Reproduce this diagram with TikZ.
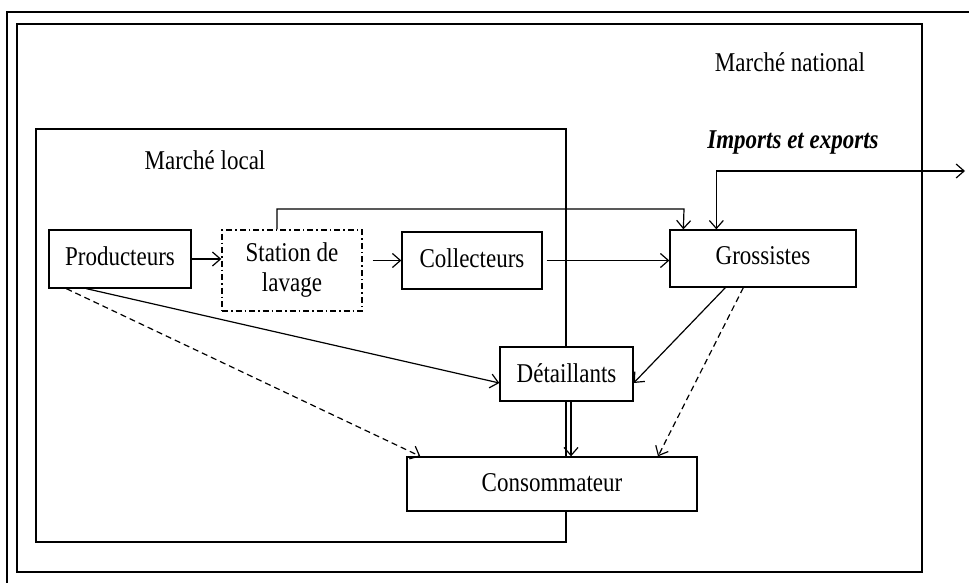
\documentclass[tikz,border=0pt]{standalone}
\usepackage{fontspec}
\usepackage{graphicx}
\setmainfont{Liberation Serif}
\usetikzlibrary{arrows.meta,calc}
% Times-style lettering, drawn a little taller than it is wide
\newcommand\tall[1]{\scalebox{1}[1.18]{#1}}
% single-line box labels sit a little above the middle of their box
\newcommand\boxlabel[2][5pt]{\raisebox{#1}{\tall{#2}}}
\begin{document}
\begin{tikzpicture}[x=1pt,y=-1pt,
  every node/.style={font=\fontsize{23}{28}\selectfont, inner sep=0pt},
  actor/.style={draw, fill=white, line width=1.3pt, align=center},
  frame/.style={draw, line width=1.3pt},
  flow/.style={line width=1.2pt, -{Straight Barb[length=8pt,width=14pt,line width=1.2pt]}},
  weakflow/.style={flow, dash pattern=on 6pt off 4pt},
  label/.style={font=\fontsize{23}{28}\selectfont}]
  \useasboundingbox (0,0) rectangle (969,583);
  \fill[white] (0,0) rectangle (969,583);
  \begin{scope}
    \clip (0,0) rectangle (969,583);
    % outer border, running past the page edges
    \draw[frame] (7,12) rectangle (1000,620);
  \end{scope}
  % national and local markets
  \draw[frame] (17,24) rectangle (922,572);
  \draw[frame] (36,129) rectangle (566,542);
  \node[label] (national) at (790,62) {\tall{Marché national}};
  \node[label] (local) at (205,160) {\tall{Marché local}};
  \node[label, font=\fontsize{23}{28}\selectfont\bfseries\itshape] (trade) at (793,143) {\tall{Imports et exports}};

  % actors
  \node[actor, minimum width=142pt, minimum height=58pt] (prod) at (120,259) {\boxlabel{Producteurs}};
  \node[actor, dash pattern=on 6pt off 3pt on 1.5pt off 3pt, minimum width=140pt, minimum height=81pt] (wash) at (292,270.5) {\tall{Station de}\\[2pt]\tall{lavage}};
  \node[actor, minimum width=140pt, minimum height=57pt] (coll) at (472,260.5) {\boxlabel{Collecteurs}};
  \node[actor, minimum width=186pt, minimum height=57pt] (gros) at (763,258.5) {\boxlabel{Grossistes}};
  \node[actor, minimum width=133pt, minimum height=54pt] (det) at (566.5,374) {\boxlabel[2pt]{Détaillants}};
  \node[actor, minimum width=290pt, minimum height=54pt] (cons) at (552,484) {\boxlabel[3pt]{Consommateur}};
  \coordinate (abroad) at (965,171);

  % flows
  \draw[flow] (prod.east) -- (wash.west |- prod.east);
  \draw[flow] ([xshift=10pt]wash.east |- coll.west) -- (coll.west);
  \draw[flow] ([xshift=4pt]coll.east) -- (gros.west |- coll.east);
  \draw[flow] ([xshift=-15pt]wash.north) |- (684,209) -- ([xshift=14pt]gros.north west);
  \draw[flow, {Straight Barb[length=8pt,width=14pt,line width=1.2pt]}-{Straight Barb[length=8pt,width=14pt,line width=1.2pt]}]
    ([xshift=47pt]gros.north west) |- (abroad);
  \draw[flow] ([xshift=38pt]prod.south west) -- ([yshift=-9pt]det.west);
  \draw[weakflow] ([xshift=18pt]prod.south west) -- ([xshift=14pt]cons.north west);
  \draw[flow] ([xshift=56pt]gros.south west) -- ([yshift=-9pt]det.east);
  \draw[weakflow] ([xshift=74pt]gros.south west) -- ([xshift=106pt]cons.north);
  \draw[flow] ([xshift=4.5pt]det.south) -- ([xshift=4.5pt]det.south |- cons.north);
\end{tikzpicture}
\end{document}
